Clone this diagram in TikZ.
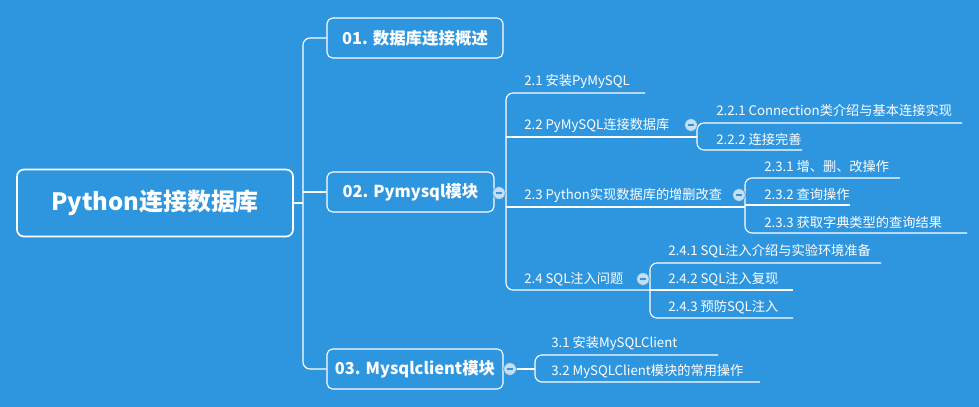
\documentclass[tikz,border=0pt]{standalone}
\usepackage{fontspec}
\setmainfont{Noto Sans CJK SC}
\usetikzlibrary{positioning}
\definecolor{mapblue}{HTML}{2E96DF}
\definecolor{knob}{HTML}{C9DDF0}
\tikzset{
  rootbox/.style={draw=white, very thick, rounded corners=5pt, text=white, font=\fontsize{17}{20}\selectfont\bfseries, minimum height=1.675cm},
  topicbox/.style={draw=white, thick, rounded corners=4pt, text=white, font=\fontsize{11.7}{14}\selectfont\bfseries, minimum height=1cm},
  leaf/.style={anchor=west, text=white, inner sep=0pt, font=\fontsize{9.4}{11}\selectfont},
  knobdot/.style={circle, fill=knob, draw=mapblue, inner sep=0pt, minimum size=9pt},
  link/.style={draw=white, line width=0.8pt, rounded corners=5pt}
}
\begin{document}
\begin{tikzpicture}[x=0.025cm, y=-0.025cm]
    \fill[mapblue] (0,0) rectangle (979,407);
    \useasboundingbox (0,0) rectangle (979,407);

    % Root and topics
    \node[rootbox, minimum width=6.9cm] (root) at (155,203) {Python连接数据库};
    \node[topicbox, minimum width=4.4cm] (t1) at (415,38) {01. 数据库连接概述};
    \node[topicbox, minimum width=4.175cm] (t2) at (410.5,192) {02. Pymysql模块};
    \node[topicbox, minimum width=4.4cm] (t3) at (415,369) {03. Mysqlclient模块};

    % Trunk
    \draw[link] (t1.west) -- (303,38) -- (303,369) -- (t3.west);
    \draw[link] (root.east) -- (303,203);
    \draw[link] (303,192) -- (t2.west);

    % Pymysql subtopics
    \node[leaf] (s21) at (524,81) {2.1 安装PyMySQL};
    \node[leaf] (s22) at (524,125) {2.2 PyMySQL连接数据库};
    \node[leaf] (s23) at (524,195) {2.3 Python实现数据库的增删改查};
    \node[leaf] (s24) at (524,279) {2.4 SQL注入问题};
    \draw[link] (645,93) -- (506,93) -- (506,290) -- (650,290);
    \draw[link] (506,137) -- (697,137);
    \draw[link] (506,207) -- (745,207);
    \draw[link] (499,192) -- (506,192);

    % 2.2 children
    \node[leaf] (s221) at (716,110) {2.2.1 Connection类介绍与基本连接实现};
    \node[leaf] (s222) at (716,139) {2.2.2 连接完善};
    \draw[link] (962,123) -- (697,123) -- (697,150) -- (802,150);

    % 2.3 children
    \node[leaf] (s231) at (764,166) {2.3.1 增、删、改操作};
    \node[leaf] (s232) at (764,194) {2.3.2 查询操作};
    \node[leaf] (s233) at (764,222) {2.3.3 获取字典类型的查询结果};
    \draw[link] (900,178) -- (745,178) -- (745,233) -- (967,233);
    \draw[link] (745,205) -- (850,205);

    % 2.4 children
    \node[leaf] (s241) at (668,251) {2.4.1 SQL注入介绍与实验环境准备};
    \node[leaf] (s242) at (668,279) {2.4.2 SQL注入复现};
    \node[leaf] (s243) at (668,307) {2.4.3 预防SQL注入};
    \draw[link] (881,263) -- (650,263) -- (650,318) -- (793,318);
    \draw[link] (650,290) -- (793,290);

    % Mysqlclient subtopics
    \node[leaf] (s31) at (551,343) {3.1 安装MySQLClient};
    \node[leaf] (s32) at (551,371) {3.2 MySQLClient模块的常用操作};
    \draw[link] (718,355) -- (535,355) -- (535,382) -- (760,382);
    \draw[link] (510,369) -- (535,369);

    % Collapse knobs
    \foreach \kx/\ky in {499/193, 691/125, 739/195, 643/279, 510/369}
        \node[knobdot] at (\kx,\ky) {\textcolor{mapblue}{\rule{4pt}{1pt}}};
\end{tikzpicture}
\end{document}
